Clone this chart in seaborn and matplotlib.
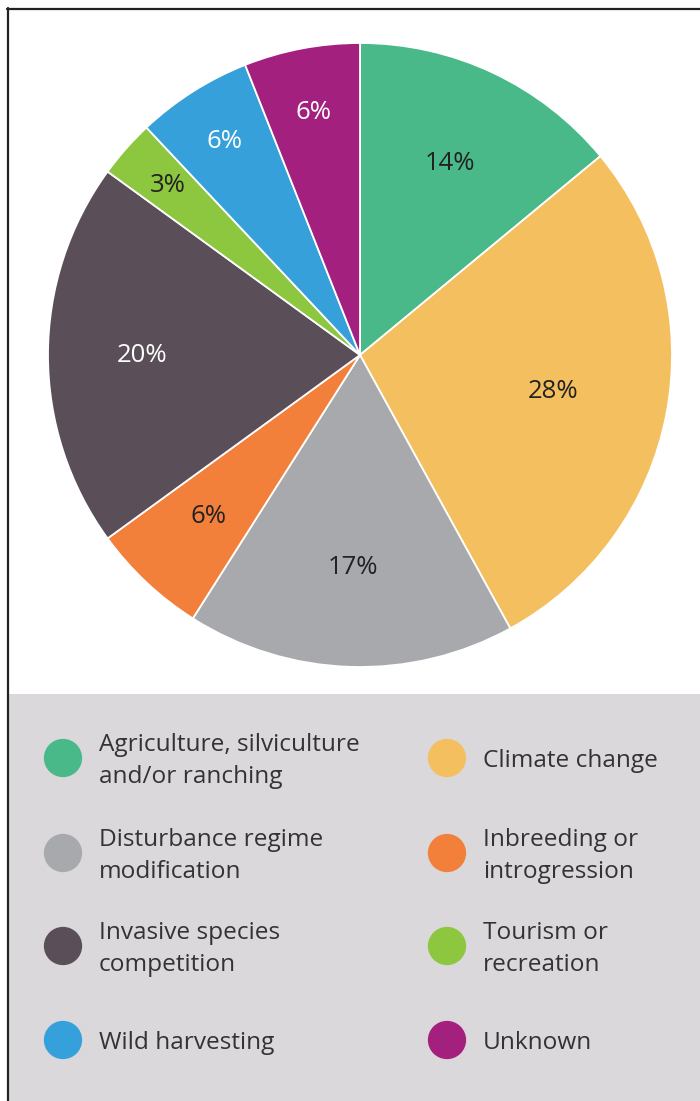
import matplotlib
matplotlib.use("Agg")
import matplotlib.pyplot as plt
import seaborn as sns
import pandas as pd
import numpy as np
from matplotlib.patches import Rectangle
from matplotlib.lines import Line2D

categories = ["Agriculture, silviculture\nand/or ranching", "Climate change",
              "Disturbance regime\nmodification", "Inbreeding or\nintrogression",
              "Invasive species\ncompetition", "Tourism or\nrecreation",
              "Wild harvesting", "Unknown"]
values = [14, 28, 17, 6, 20, 3, 6, 6]
colors = ["#4AB98A", "#F4BF5F", "#A8A9AC", "#F2803B", "#5A4E58", "#8DC63F", "#36A0DA", "#A3207F"]
label_colors = ["#222222", "#222222", "#222222", "#222222", "white", "#222222", "white", "white"]
label_radius = [0.68, 0.63, 0.68, 0.71, 0.70, 0.82, 0.81, 0.79]

sns.set_style("white")
plt.rcParams['font.family'] = ['Open Sans', 'DejaVu Sans']

W, H = 700, 1101
fig = plt.figure(figsize=(W/100, H/100), dpi=100)

# background elements
bg = fig.add_axes([0, 0, 1, 1])
bg.set_xlim(0, W); bg.set_ylim(H, 0); bg.axis("off")
bg.add_patch(Rectangle((8, 694), W - 8, H - 694, facecolor="#DAD8DB", edgecolor="none"))
bg.add_line(Line2D([7.5, 7.5], [8, H], color="#222222", lw=1.6))
bg.add_line(Line2D([7, W], [8.5, 8.5], color="#222222", lw=1.6))

# pie
cx, cy, r = 360, 355, 312
ax = fig.add_axes([(cx - r)/W, (H - cy - r)/H, 2*r/W, 2*r/H])
wedges, _ = ax.pie(values, colors=colors, startangle=90, counterclock=False,
                   radius=1.0, wedgeprops=dict(edgecolor="white", linewidth=1.3))
cum = 0
for i, v in enumerate(values):
    mid = np.deg2rad(90 - (cum + v/2) * 3.6)
    cum += v
    rr = label_radius[i]
    ax.text(rr*np.cos(mid), rr*np.sin(mid), f"{v}%", ha="center", va="center",
            fontsize=18.5, color=label_colors[i])
ax.set_xlim(-1, 1); ax.set_ylim(-1, 1)
ax.set_aspect("equal")
ax.axis("off")

# legend via seaborn scatter
lax = fig.add_axes([0, 0, 1, 1], facecolor="none")
xs = [63, 447]
ys = [758, 853, 946, 1040]
df = pd.DataFrame({
    "x": [xs[i % 2] for i in range(8)],
    "y": [ys[i // 2] for i in range(8)],
    "cat": categories,
})
sns.scatterplot(data=df, x="x", y="y", hue="cat", palette=dict(zip(categories, colors)),
                s=760, edgecolor="none", legend=False, ax=lax)
for i, row in df.iterrows():
    lax.text(row["x"] + 36, row["y"] + 3, row["cat"], ha="left", va="center",
             fontsize=17.6, color="#333333", linespacing=1.4)
lax.set_xlim(0, W); lax.set_ylim(H, 0)
lax.axis("off")

fig.savefig("out.png", dpi=100)
